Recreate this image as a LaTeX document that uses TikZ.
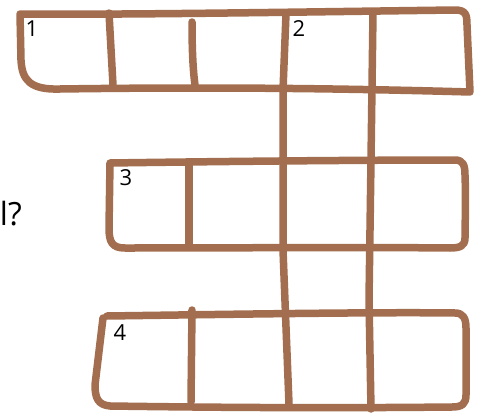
\documentclass[tikz,border=0pt]{standalone}
\usepackage{fontspec}
\setmainfont{Open Sans}
\definecolor{pen}{RGB}{163,110,80}
\begin{document}
\begin{tikzpicture}[x=1pt,y=-1pt,
  ink/.style={draw=pen,line width=7.5pt,line cap=round,line join=round},
  num/.style={font=\fontsize{22}{24}\selectfont,inner sep=0pt,text=black},
  ask/.style={font=\fontsize{32}{36}\selectfont,inner sep=0pt,text=black}]
\useasboundingbox (0,0) rectangle (477,415);
% row 1 outline
\draw[ink] (20,14) .. controls (120,15) and (300,12) .. (455,10)
  .. controls (466,10) and (467,15) .. (467,25) -- (470,92)
  .. controls (330,88) and (200,87) .. (60,89)
  .. controls (30,90) and (22,80) .. (21,60) -- (20,14);
\draw[ink] (109,13) -- (113,85);
\draw[ink] (192,22) .. controls (192,50) and (193,70) .. (195,85);
% long columns
\draw[ink] (286,14) -- (283,90) -- (283,250) -- (289,404);
\draw[ink] (373,13) -- (371,160) -- (369,300) -- (371,409);
% row 3 outline
\draw[ink] (110,163) .. controls (250,161) and (380,160) .. (455,160)
  .. controls (463,160) and (465,165) .. (465,175)
  .. controls (466,200) and (465,225) .. (465,238)
  .. controls (465,246) and (460,248) .. (450,248)
  .. controls (350,247) and (250,248) .. (125,248)
  .. controls (112,248) and (109,242) .. (109,228) -- (110,163);
\draw[ink] (189,163) -- (189,246);
% row 4 outline
\draw[ink] (107,316) .. controls (250,314) and (380,312) .. (455,313)
  .. controls (463,313) and (466,318) .. (466,328)
  -- (466,395)
  .. controls (466,404) and (462,407) .. (452,407)
  .. controls (350,408) and (250,408) .. (110,406)
  .. controls (98,405) and (95,398) .. (95,385) -- (103,318);
\draw[ink] (192,310) -- (191,402);
% labels
\node[num] (n1) at (32,29) {1};
\node[num] (n2) at (299,29) {2};
\node[num] (n3) at (126,178) {3};
\node[num] (n4) at (120,333) {4};
\node[ask,anchor=base east] (q) at (22,225) {l?};
\end{tikzpicture}
\end{document}
